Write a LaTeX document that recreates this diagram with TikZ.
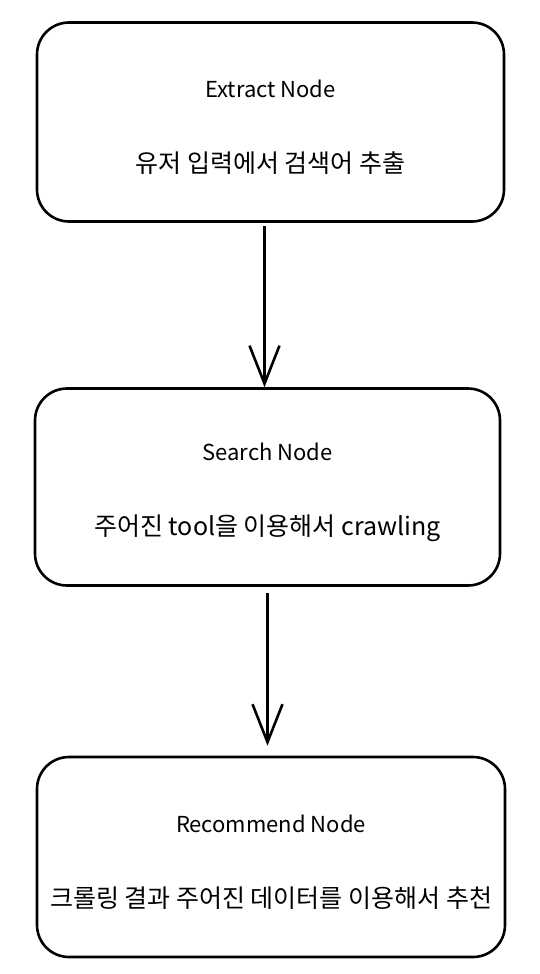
\documentclass[tikz,border=0pt]{standalone}
\usepackage{fontspec}
\setmainfont{Noto Sans CJK KR}
\usetikzlibrary{arrows.meta}

\tikzset{
    nodebox/.style={draw, line width=2.6pt, rounded corners=32pt, align=center,
        font=\fontsize{25}{29}\selectfont},
    flow/.style={line width=2.6pt, -{Straight Barb[length=38pt, width=30pt, line width=2.6pt]}}
}
\newcommand{\nodetitle}[1]{{\fontsize{22}{29}\selectfont\rule{0pt}{28pt}#1}}

\begin{document}
\begin{tikzpicture}[x=1pt, y=-1pt]
    \useasboundingbox (0,0) rectangle (540,974);

    % the three nodes
    \node[nodebox, minimum width=467pt, minimum height=199pt] (extract) at (270.5,122)
        {\nodetitle{Extract Node}\\[46pt]유저 입력에서 검색어 추출};
    \node[nodebox, minimum width=465pt, minimum height=197pt] (search) at (267.5,487)
        {\nodetitle{Search Node}\\[46pt]주어진 tool을 이용해서 crawling};
    \node[nodebox, minimum width=468pt, minimum height=200pt] (recommend) at (271,857)
        {\nodetitle{Recommend Node}\\[46pt]크롤링 결과 주어진 데이터를 이용해서 추천};

    % draw the arrows
    \draw[flow] ([xshift=-6pt,yshift=-3pt]extract.south) -- ([xshift=-6pt]extract.south |- search.north);
    \draw[flow] ([yshift=-6pt]search.south) -- ([yshift=10pt]search.south |- recommend.north);

\end{tikzpicture}
\end{document}
